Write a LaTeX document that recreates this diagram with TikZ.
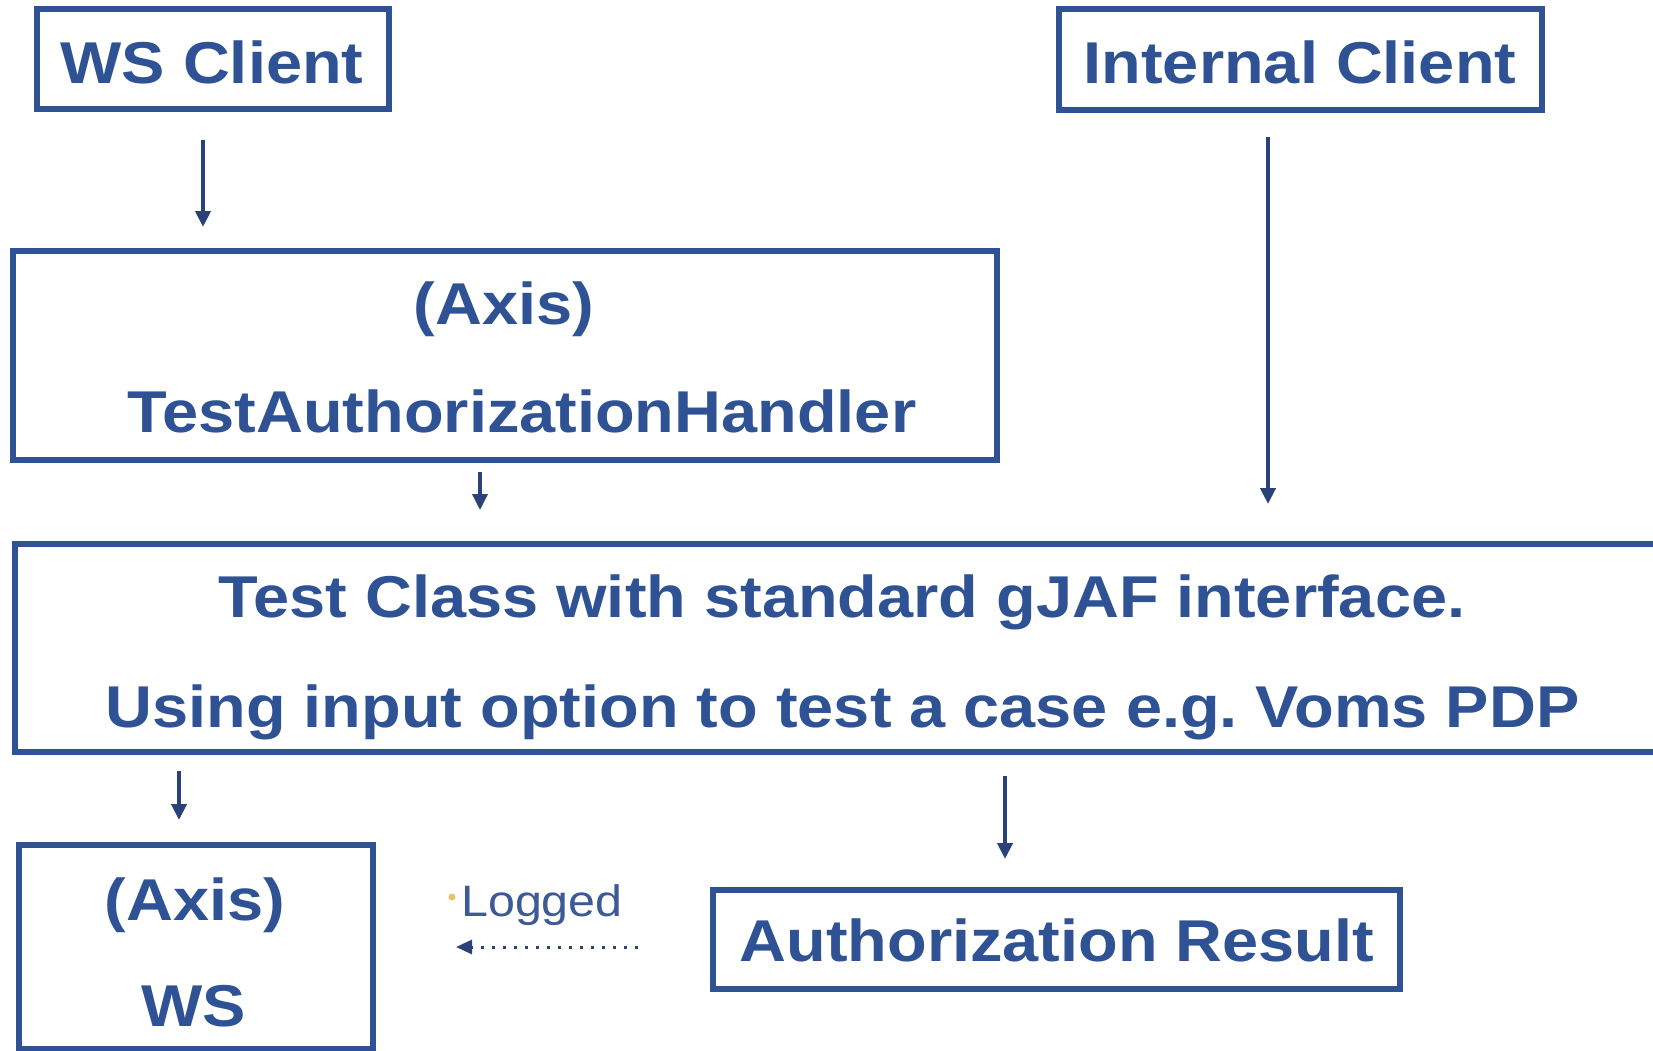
\documentclass[tikz,border=0pt]{standalone}
\usepackage{fontspec}
\usetikzlibrary{arrows.meta}
\newfontfamily\lsans{Liberation Sans}[FakeStretch=1.1]
\definecolor{dblue}{RGB}{46,82,148}
\definecolor{ablue}{RGB}{42,66,122}
\definecolor{lblue}{RGB}{60,90,150}
\definecolor{dotor}{RGB}{235,195,110}
\begin{document}
\frenchspacing
\begin{tikzpicture}[x=1pt,y=-1pt,
  box/.style={draw=dblue, line width=6pt, inner sep=0pt, outer sep=0pt, fill=white},
  btext/.style={anchor=base, inner sep=0pt, text=dblue, font=\lsans\bfseries\fontsize{59}{70}\selectfont},
  flow/.style={draw=ablue, line width=4pt, -{Triangle[width=15pt,length=16pt]}},
  ]
\useasboundingbox (0,0) rectangle (1653,1051);
\clip (0,0) rectangle (1653,1051);
\fill[white] (0,0) rectangle (1653,1051);

% boxes
\node[box, minimum width=352pt, minimum height=100pt] (wsc) at (213,59) {};
\node[box, minimum width=483pt, minimum height=101pt] (intc) at (1300.5,59.5) {};
\node[box, minimum width=984pt, minimum height=209pt] (handler) at (505,355.5) {};
\node[box, minimum width=1655pt, minimum height=208pt] (gjaf) at (842.5,648) {};
\node[box, minimum width=354pt, minimum height=204pt] (ws) at (196,947) {};
\node[box, minimum width=687pt, minimum height=99pt] (result) at (1056.5,939.5) {};

% texts
\node[btext] (twsc) at (212,84) {WS Client};
\node[btext] (tintc) at (1300,84) {Internal Client};
\node[btext] (thax) at (504,324) {(Axis)};
\node[btext] (thnd) at (522,432) {TestAuthorizationHandler};
\node[btext] (tg1) at (842,617) {Test Class with standard gJAF interface.};
\node[btext] (tg2) at (842.5,727) {Using input option to test a case e.g. Voms PDP};
\node[btext] (twax) at (195,920) {(Axis)};
\node[btext] (twws) at (194,1026) {WS};
\node[btext] (tres) at (1057,961) {Authorization Result};

% connectors
\draw[flow, shorten <=31pt, shorten >=24pt] (wsc.south -| 203,0) -- (handler.north -| 203,0);
\draw[flow, shorten <=27pt, shorten >=40pt] (intc.south -| 1268,0) -- (gjaf.north -| 1268,0);
\draw[flow, line width=3.5pt, shorten <=12pt, shorten >=34pt] (handler.south -| 480,0) -- (gjaf.north -| 480,0);
\draw[flow, shorten <=19pt, shorten >=25pt] (gjaf.south -| 179,0) -- (ws.north -| 179,0);
\draw[flow, shorten <=24pt, shorten >=31pt] (gjaf.south -| 1005,0) -- (result.north -| 1005,0);
\draw[draw=ablue, line width=3pt, dash pattern=on 3pt off 8pt,
      -{Triangle[width=14pt,length=16pt]}, shorten <=75pt, shorten >=83pt]
      (result.west |- 0,947) -- (ws.east |- 0,947);

% Logged label
\fill[dotor] (452,897) circle (3.5pt);
\node[anchor=base west, inner sep=0pt, text=lblue, font=\lsans\fontsize{44}{50}\selectfont] (logged) at (461,916) {Logged};
\end{tikzpicture}
\end{document}
